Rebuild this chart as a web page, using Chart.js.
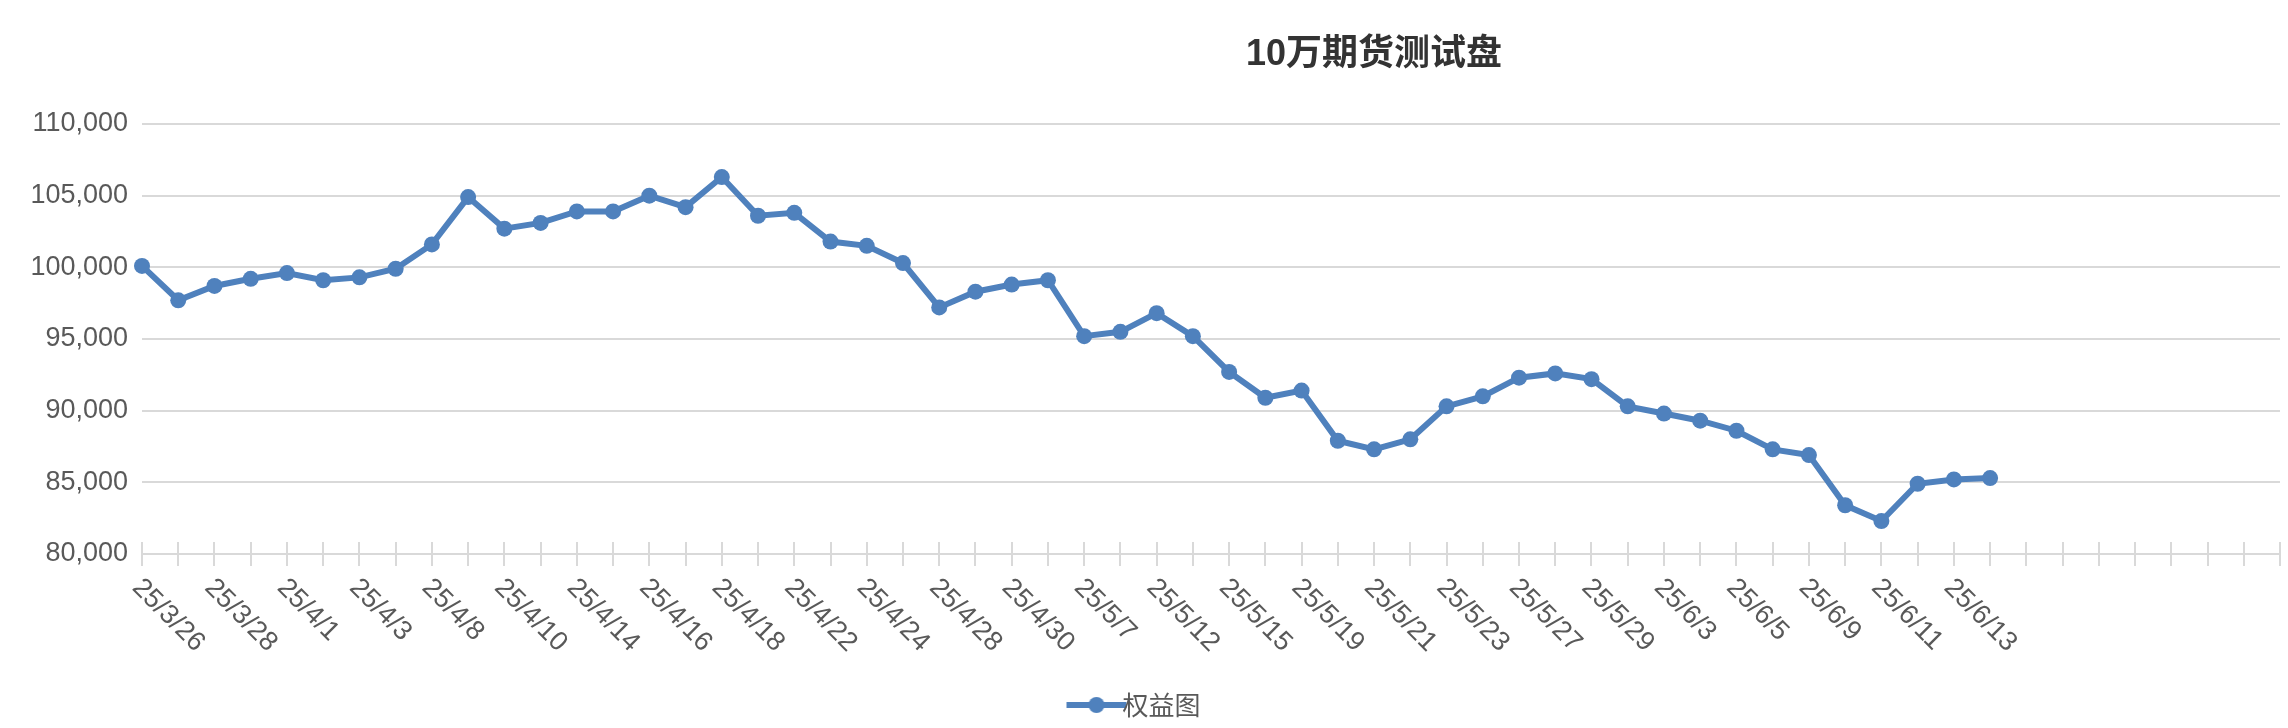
<!DOCTYPE html>
<html><head><meta charset="utf-8">
<script src="https://cdn.jsdelivr.net/npm/chart.js@4/dist/chart.umd.min.js"></script>
<style>html,body{margin:0;padding:0;background:#fff}#wrap{width:2288px;height:728px}</style>
</head><body><div id="wrap"><canvas id="c" width="2288" height="728"></canvas></div>
<script>
const titleText = '10万期货测试盘';
const seriesName = '权益图';
const dates = ['25/3/26','25/3/27','25/3/28','25/3/31','25/4/1','25/4/2','25/4/3','25/4/7','25/4/8','25/4/9','25/4/10','25/4/11','25/4/14','25/4/15','25/4/16','25/4/17','25/4/18','25/4/21','25/4/22','25/4/23','25/4/24','25/4/25','25/4/28','25/4/29','25/4/30','25/5/6','25/5/7','25/5/9','25/5/12','25/5/14','25/5/15','25/5/16','25/5/19','25/5/20','25/5/21','25/5/22','25/5/23','25/5/26','25/5/27','25/5/28','25/5/29','25/5/30','25/6/3','25/6/4','25/6/5','25/6/6','25/6/9','25/6/10','25/6/11','25/6/12','25/6/13','25/6/16','','','','','','','',''];
const equity = [100100,97700,98700,99200,99600,99100,99300,99900,101600,104900,102700,103100,103900,103900,105000,104200,106300,103600,103800,101800,101500,100300,97200,98300,98800,99100,95200,95500,96800,95200,92700,90900,91400,87900,87300,88000,90300,91000,92300,92600,92200,90300,89800,89300,88600,87300,86900,83400,82300,84900,85200,85300];
const yTicks = [80000,85000,90000,95000,100000,105000,110000];

const BLUE = '#4f81bd', GREY = '#595959', GRID = '#d9d9d9';
const SHIFT = 230;

const icon = document.createElement('canvas');
icon.width = 64; icon.height = 20;
{const g = icon.getContext('2d'); g.strokeStyle = BLUE; g.lineWidth = 6; g.beginPath(); g.moveTo(2,10); g.lineTo(62,10); g.stroke();
 g.fillStyle = BLUE; g.beginPath(); g.arc(32,10,8,0,Math.PI*2); g.fill();}

const custom = {
  id: 'custom',
  afterLayout(chart) {
    const lg = chart.legend;
    if (lg && lg.legendHitBoxes) lg.legendHitBoxes.forEach(b => b.left += SHIFT);
  },
  afterDraw(chart) {
    const ctx = chart.ctx, x = chart.scales.x, a = chart.chartArea;
    ctx.save();
    // title
    ctx.fillStyle = '#333333';
    ctx.font = 'bold 36px "Liberation Sans", "Noto Sans CJK SC", sans-serif';
    ctx.textAlign = 'center'; ctx.textBaseline = 'middle';
    ctx.fillText(titleText, 1144 + SHIFT, 55);
    // ticks
    ctx.strokeStyle = GRID; ctx.lineWidth = 2;
    for (let i = 0; i < dates.length; i++) {
      const px = Math.round(x.getPixelForValue(i));
      ctx.beginPath(); ctx.moveTo(px, a.bottom - 12); ctx.lineTo(px, a.bottom + 12); ctx.stroke();
    }
    // x labels
    ctx.fillStyle = GREY;
    ctx.font = '27px "Liberation Sans", sans-serif';
    ctx.textAlign = 'left'; ctx.textBaseline = 'top';
    for (let i = 0; i < dates.length; i += 2) {
      if (!dates[i]) continue;
      const px = x.getPixelForValue(i);
      ctx.save(); ctx.translate(px + 4, a.bottom + 20); ctx.rotate(Math.PI / 4);
      ctx.fillText(dates[i], 0, 0); ctx.restore();
    }
    ctx.restore();
  }
};

new Chart(document.getElementById('c'), {
  type: 'line',
  data: { labels: dates, datasets: [{ label: seriesName, data: equity, borderColor: BLUE, backgroundColor: BLUE,
    borderWidth: 6, pointRadius: 8, pointHoverRadius: 8, pointBackgroundColor: BLUE, pointBorderWidth: 0, tension: 0 }] },
  options: {
    responsive: false, animation: false, devicePixelRatio: 1,
    layout: { padding: { top: 124, right: 4, left: 0, bottom: 0 } },
    plugins: {
      title: { display: false },
      tooltip: { enabled: false },
      legend: { position: 'bottom', labels: { usePointStyle: true, pointStyle: icon, padding: 6, color: GREY,
        font: { size: 26, family: '"Noto Sans CJK SC", sans-serif' } } }
    },
    scales: {
      x: { offset: false, grid: { display: false, drawTicks: false }, border: { color: GRID, width: 2 },
        ticks: { display: false }, afterFit(s) { s.height = 132; } },
      y: { min: 80000, max: 110000, afterFit(s) { s.width = 142; },
        afterBuildTicks(s) { s.ticks = yTicks.map(v => ({ value: v })); },
        grid: { color: GRID, lineWidth: 2, drawTicks: false }, border: { display: false },
        ticks: { color: GREY, padding: 14, font: { size: 27, family: '"Liberation Sans", sans-serif' } } }
    }
  },
  plugins: [custom]
});
</script></body></html>
